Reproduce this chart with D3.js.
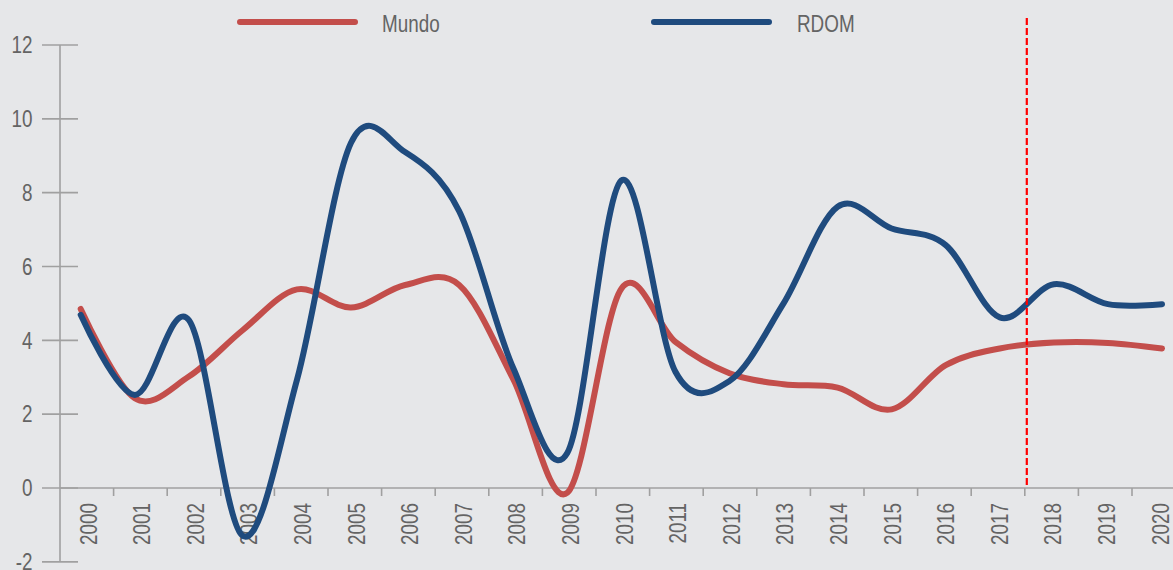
<!DOCTYPE html>
<html><head><meta charset="utf-8">
<script src="https://cdn.jsdelivr.net/npm/d3@7"></script>
<style>
html,body{margin:0;padding:0;background:#e6e7e9;}
svg{display:block;font-family:"Liberation Sans Narrow","Liberation Sans",Arial,sans-serif;}
</style></head>
<body><svg id="c" width="1173" height="570"></svg>
<script>
const years = ["2000","2001","2002","2003","2004","2005","2006","2007","2008","2009","2010","2011","2012","2013","2014","2015","2016","2017","2018","2019","2020"];
const mundo = [4.85,2.43,3.02,4.28,5.38,4.89,5.5,5.5,2.95,-0.13,5.4,3.96,3.11,2.81,2.72,2.13,3.33,3.78,3.94,3.93,3.78];
const rdom  = [4.69,2.52,4.55,-1.3,2.93,9.35,9.1,7.5,3.25,0.95,8.33,3.15,2.9,5.0,7.62,7.03,6.58,4.62,5.52,4.98,4.98];
const yTicks = [-2,0,2,4,6,8,10,12];
const seriesNames = ["Mundo","RDOM"];
const seriesColors = ["#c34e4b","#1f4b7e"];
const markerBoundary = 18; // vertical marker at boundary between 2017 and 2018

const svg = d3.select("#c");
const W = 1173, H = 570;
const SX = 0.82; // narrow font emulation
const y = d3.scaleLinear().domain([0,12]).range([488,45]);
const xBand = d3.scaleBand().domain(years).range([60,1185.6]).paddingInner(0).paddingOuter(0);
const xPt = d3.scalePoint().domain(years).range([80.7,1162]);
const axisCol = "#a0a0a0", textCol = "#646464";

// y axis line
svg.append("line").attr("x1",60).attr("x2",60).attr("y1",y(12)).attr("y2",y(-2))
  .attr("stroke",axisCol).attr("stroke-width",1.6);
// y ticks
const yt = svg.append("g");
yTicks.forEach(t=>{
  yt.append("line").attr("x1",42).attr("x2",78).attr("y1",y(t)).attr("y2",y(t))
    .attr("stroke",axisCol).attr("stroke-width",1.6);
  yt.append("text").attr("transform",`translate(32.5,${y(t)}) scale(${SX},1)`).attr("dy","0.36em")
    .attr("text-anchor","end").attr("fill",textCol).attr("font-size",23).text(t);
});
// x axis line
svg.append("line").attr("x1",60).attr("x2",W).attr("y1",y(0)).attr("y2",y(0))
  .attr("stroke",axisCol).attr("stroke-width",1.6);
// x ticks at band boundaries
years.forEach((yr,i)=>{
  if(i>0){
    const bx = xBand(yr);
    svg.append("line").attr("x1",bx).attr("x2",bx).attr("y1",y(0)).attr("y2",y(0)+8)
      .attr("stroke",axisCol).attr("stroke-width",1.6);
  }
  const cx = xBand(yr)+xBand.bandwidth()/2+1.5;
  svg.append("text").attr("transform",`translate(${cx},503) rotate(-90) scale(${SX},1)`)
    .attr("dy","0.36em").attr("text-anchor","end").attr("fill",textCol)
    .attr("font-size",23).text(yr);
});

// lines
const line = d3.line().x((d,i)=>xPt(years[i])).y(d=>y(d)).curve(d3.curveCatmullRom.alpha(0));
[mundo, rdom].forEach((s,k)=>{
  svg.append("path").attr("d",line(s)).attr("fill","none")
    .attr("stroke",seriesColors[k]).attr("stroke-width",6)
    .attr("stroke-linecap","round").attr("stroke-linejoin","round");
});

// vertical dashed marker
const mx = xBand.range()[0] + markerBoundary*xBand.bandwidth() + 2;
svg.append("line").attr("x1",mx).attr("x2",mx).attr("y1",18).attr("y2",y(0))
  .attr("stroke","#ff0000").attr("stroke-width",2.2).attr("stroke-dasharray","7,3");

// legend
const legX = [[240,355,382],[654,769,797]];
seriesNames.forEach((n,k)=>{
  svg.append("line").attr("x1",legX[k][0]).attr("x2",legX[k][1]).attr("y1",22).attr("y2",22)
    .attr("stroke",seriesColors[k]).attr("stroke-width",6).attr("stroke-linecap","round");
  svg.append("text").attr("transform",`translate(${legX[k][2]},31.5) scale(${SX},1)`).attr("fill",textCol)
    .attr("font-size",23).text(n);
});
</script></body></html>
